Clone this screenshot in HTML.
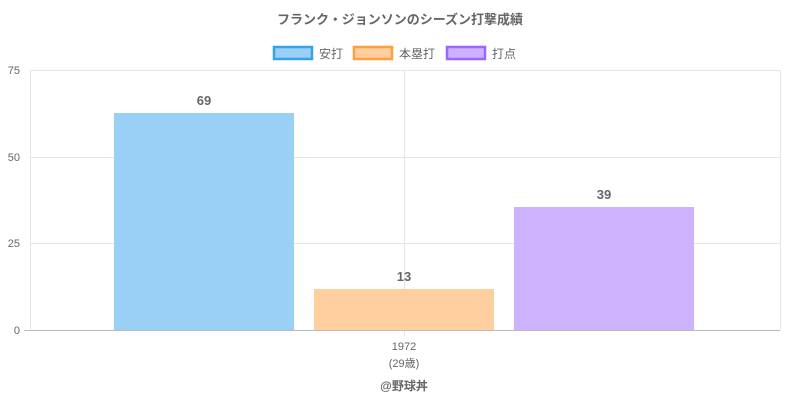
<!DOCTYPE html>
<html><head><meta charset="utf-8"><style>
body{margin:0;background:#fff;font-family:"Liberation Sans","Noto Sans CJK JP",sans-serif;}
</style></head><body>
<svg width="800" height="400" xmlns="http://www.w3.org/2000/svg" font-family="Liberation Sans, Noto Sans CJK JP, sans-serif">
<rect width="800" height="400" fill="#fff"/>
<text x="400" y="24" text-anchor="middle" font-size="13" font-weight="bold" fill="#666">フランク・ジョンソンのシーズン打撃成績</text>
<rect x="274" y="47" width="38" height="12" fill="#9ad0f5" stroke="#36a2eb" stroke-width="2.5"/>
<text x="319" y="58" font-size="12" fill="#666">安打</text>
<rect x="354" y="47" width="38" height="12" fill="#ffcf9f" stroke="#ff9f40" stroke-width="2.5"/>
<text x="399" y="58" font-size="12" fill="#666">本塁打</text>
<rect x="447" y="47" width="38" height="12" fill="#ccb2ff" stroke="#9966ff" stroke-width="2.5"/>
<text x="492" y="58" font-size="12" fill="#666">打点</text>
<g stroke="#e5e5e5" stroke-width="1">
<line x1="30" y1="70.5" x2="780" y2="70.5"/>
<line x1="30" y1="157.5" x2="780" y2="157.5"/>
<line x1="30" y1="243.5" x2="780" y2="243.5"/>
<line x1="404.5" y1="70" x2="404.5" y2="336"/>
<line x1="780.5" y1="70" x2="780.5" y2="330"/>
<line x1="30.5" y1="70" x2="30.5" y2="330"/>
</g>
<line x1="24" y1="330.5" x2="780" y2="330.5" stroke="#bbb"/>
<g font-size="11" fill="#666" text-anchor="end">
<text x="20" y="74">75</text><text x="20" y="161">50</text><text x="20" y="247">25</text><text x="20" y="334">0</text>
</g>
<rect x="114" y="113" width="180" height="217" fill="#9ad0f5"/>
<rect x="314" y="289" width="180" height="41" fill="#ffcf9f"/>
<rect x="514" y="207" width="180" height="123" fill="#ccb2ff"/>
<g font-size="13" font-weight="bold" fill="#666" text-anchor="middle">
<text x="204" y="105">69</text><text x="404" y="281">13</text><text x="604" y="199">39</text>
</g>
<text x="404" y="350" font-size="11" fill="#666" text-anchor="middle">1972</text>
<text x="404" y="367" font-size="11" fill="#666" text-anchor="middle">(29歳)</text>
<text x="404" y="390" font-size="12" font-weight="bold" fill="#666" text-anchor="middle">@野球丼</text>
</svg>
</body></html>
